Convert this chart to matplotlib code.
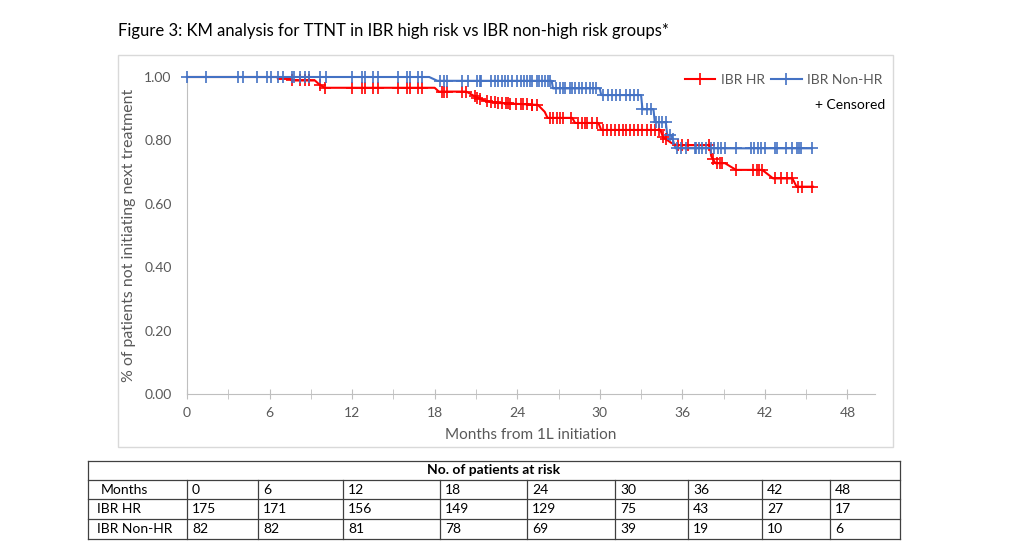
import numpy as np
import matplotlib
matplotlib.use("Agg")
import matplotlib.pyplot as plt
from matplotlib.lines import Line2D
from matplotlib.patches import Rectangle

plt.rcParams['font.family'] = ['Lato', 'DejaVu Sans']

RED = '#FF0000'
BLUE = '#4472C4'
GRAY = '#595959'

# KM curve vertices (months, proportion)
hr_t = [0, 6.6, 6.6, 7.5, 7.6, 9.3, 9.6, 10.0, 18.0, 18.3, 20.3, 21.0, 21.6, 22.6, 25.5, 26.0,
        26.2, 28.0, 28.2, 29.9, 30.1, 34.4, 34.6, 35.2, 35.6, 38.0, 38.1, 38.4, 39.1, 39.9,
        41.8, 42.6, 44.0, 44.3, 45.5]
hr_s = [1.0, 1.0, 0.994, 0.994, 0.989, 0.989, 0.977, 0.966, 0.966, 0.954, 0.954, 0.937, 0.926,
        0.918, 0.912, 0.89, 0.871, 0.871, 0.855, 0.855, 0.833, 0.833, 0.81, 0.792, 0.785, 0.785,
        0.75, 0.728, 0.728, 0.707, 0.707, 0.68, 0.68, 0.654, 0.654]

nhr_t = [0, 17.6, 18.2, 26.5, 26.6, 30.0, 30.1, 33.0, 33.1, 33.9, 34.0, 34.8, 34.9, 35.2, 35.5, 45.4]
nhr_s = [1.0, 1.0, 0.988, 0.988, 0.964, 0.964, 0.943, 0.943, 0.898, 0.898, 0.857, 0.857,
         0.817, 0.817, 0.775, 0.775]

# censored times (months)
hr_cens = [7.6, 8.2, 8.6, 8.9, 9.7, 10.0, 12.0, 12.7, 12.9, 13.5, 13.9, 15.3, 16.0, 16.2, 16.8,
           17.1, 18.5, 18.7, 18.9, 20.0, 20.3, 20.9, 21.1, 21.3, 21.8, 22.1, 22.4, 22.6, 22.9,
           23.2, 23.3, 23.5, 23.9, 24.3, 24.4, 24.7, 25.1, 25.1, 25.4, 26.4, 26.6, 26.9, 27.1,
           27.3, 27.9, 28.4, 28.7, 28.9, 29.1, 29.4, 29.8, 30.2, 30.5, 30.8, 31.1, 31.4, 31.7,
           31.9, 32.2, 32.5, 32.8, 33.1, 33.4, 33.7, 34.0, 34.3, 34.6, 34.8, 35.7, 36.0, 36.4,
           37.9, 38.2, 38.5, 38.7, 38.9, 39.9, 41.1, 41.4, 41.6, 41.8, 42.7, 43.2, 43.6, 44.0,
           44.4, 44.7, 45.4]
nhr_cens = [0.0, 1.4, 3.7, 4.1, 5.1, 5.8, 6.1, 6.6, 7.0, 7.6, 7.8, 8.2, 8.6, 8.9, 9.7, 10.1,
            12.0, 12.7, 12.9, 13.5, 13.9, 15.3, 16.0, 16.2, 16.8, 17.1, 18.4, 18.7, 18.9, 20.0,
            20.4, 21.1, 21.3, 21.4, 22.1, 22.4, 22.6, 22.9, 23.1, 23.3, 23.6, 24.0, 24.3, 24.5,
            24.7, 24.9, 25.1, 25.4, 25.6, 25.8, 26.0, 26.2, 26.4, 26.8, 27.1, 27.3, 27.5, 27.8,
            28.0, 28.2, 28.5, 28.7, 29.0, 29.3, 29.5, 29.7, 30.2, 30.6, 30.9, 31.2, 31.5, 31.9,
            32.2, 32.5, 32.8, 33.1, 33.4, 33.7, 34.1, 34.3, 34.5, 34.8, 35.1, 35.3, 35.6, 35.9,
            36.3, 36.9, 37.0, 37.2, 37.4, 37.7, 38.1, 38.3, 38.6, 38.8, 39.1, 39.9, 41.0, 41.2,
            41.5, 41.7, 42.0, 42.7, 42.9, 43.5, 44.0, 44.3, 44.5, 44.6, 45.4]

# number at risk table
risk_months = [0, 6, 12, 18, 24, 30, 36, 42, 48]
risk_hr = [175, 171, 156, 149, 129, 75, 43, 27, 17]
risk_nhr = [82, 82, 81, 78, 69, 39, 19, 10, 6]

W, H = 1020, 550
fig = plt.figure(figsize=(W / 100, H / 100), dpi=100)

# background axes in pixel coords
bg = fig.add_axes([0, 0, 1, 1])
bg.set_xlim(0, W)
bg.set_ylim(H, 0)
bg.axis('off')

bg.text(118, 31, 'Figure 3: KM analysis for TTNT in IBR high risk vs IBR non-high risk groups*',
        fontsize=12, va='center', ha='left', color='black')
bg.add_patch(Rectangle((118, 55), 775, 392, fill=False, edgecolor='#D9D9D9', lw=1))

# main plot
ax = fig.add_axes([187 / W, 1 - 394 / H, (875 - 187) / W, (394 - 77) / H])
ax.set_facecolor('none')
ax.plot(hr_t, hr_s, color=RED, lw=1.5, clip_on=False, zorder=3)
ax.plot(nhr_t, nhr_s, color=BLUE, lw=1.5, clip_on=False, zorder=3)
ax.plot(hr_cens, np.interp(hr_cens, hr_t, hr_s), '+', color=RED, ms=9, mew=1.2,
        clip_on=False, zorder=3)
ax.plot(nhr_cens, np.interp(nhr_cens, nhr_t, nhr_s), '+', color=BLUE, ms=9, mew=1.2,
        clip_on=False, zorder=4)

ax.set_xlim(0, 50)
ax.set_ylim(0, 1.0)
ax.set_xticks(np.arange(0, 49, 6))
ax.set_xticks(np.arange(3, 50, 6), minor=True)
ax.set_yticks(np.arange(0, 1.01, 0.2))
ax.set_yticklabels([f'{v:.2f}' for v in np.arange(0, 1.01, 0.2)])
for s in ['top', 'right']:
    ax.spines[s].set_visible(False)
for s in ['left', 'bottom']:
    ax.spines[s].set_color('#BFBFBF')
ax.tick_params(axis='x', which='both', direction='inout', length=7, color='#BFBFBF',
               labelsize=10, labelcolor=GRAY, pad=6)
ax.tick_params(axis='y', length=0, labelsize=10, labelcolor=GRAY, pad=11)
ax.set_xlabel('Months from 1L initiation', fontsize=11, color=GRAY, labelpad=6)
ax.set_ylabel('% of patients not initiating next treatment', fontsize=11.4, color=GRAY,
              labelpad=6)

handles = [Line2D([], [], color=RED, lw=1.5, marker='+', ms=9, mew=1.2),
           Line2D([], [], color=BLUE, lw=1.5, marker='+', ms=9, mew=1.2)]
leg = fig.legend(handles, ['IBR HR', 'IBR Non-HR'], loc='center right',
                 bbox_to_anchor=(888 / W, 1 - 80 / H), ncol=2, frameon=False,
                 fontsize=10, handlelength=2.2, handletextpad=0.4, columnspacing=0.45,
                 borderaxespad=0)
for t in leg.get_texts():
    t.set_color(GRAY)
bg.text(885, 105, '+ Censored', fontsize=10, ha='right', va='center', color='black')

# at-risk table
col_x = [88, 187, 258, 343, 440, 527, 615, 688, 762, 830, 900]
row_y = [461, 480, 499, 519, 539]
lc = '#404040'
for y in row_y:
    bg.plot([col_x[0], col_x[-1]], [y, y], color=lc, lw=0.9)
bg.plot([col_x[0], col_x[0]], [row_y[0], row_y[-1]], color=lc, lw=0.9)
bg.plot([col_x[-1], col_x[-1]], [row_y[0], row_y[-1]], color=lc, lw=0.9)
for x in col_x[1:-1]:
    bg.plot([x, x], [row_y[1], row_y[-1]], color=lc, lw=0.9)
bg.text((col_x[0] + col_x[-1]) / 2, (row_y[0] + row_y[1]) / 2, 'No. of patients at risk',
        fontsize=10, fontweight='bold', ha='center', va='center')
rows = [('Months', risk_months, 101), ('IBR HR', risk_hr, 97), ('IBR Non-HR', risk_nhr, 97)]
for i, (name, vals, nx) in enumerate(rows):
    yc = (row_y[i + 1] + row_y[i + 2]) / 2
    bg.text(nx, yc, name, fontsize=10, ha='left', va='center')
    for j, v in enumerate(vals):
        bg.text(col_x[j + 1] + 5, yc, str(v), fontsize=10, ha='left', va='center')

fig.savefig('out.png', dpi=100)
